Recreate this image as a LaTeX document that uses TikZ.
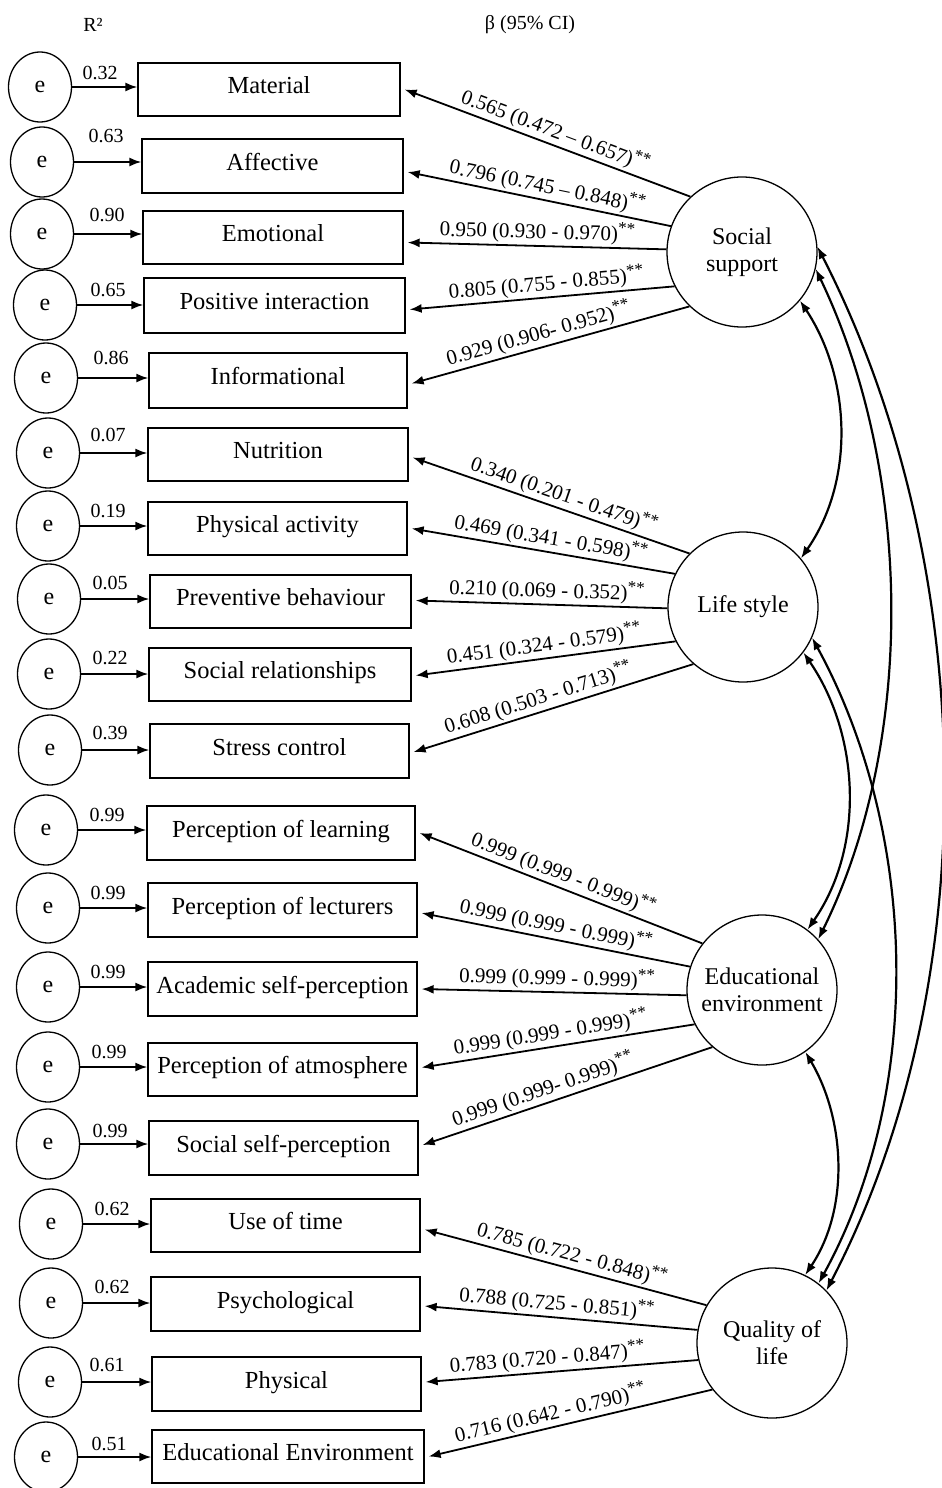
\documentclass[tikz,border=0pt]{standalone}
\usepackage{fontspec}
\setmainfont{Liberation Serif}
\usetikzlibrary{arrows.meta,shapes.geometric,calc}
\newcommand{\sigstars}{\raisebox{.32em}{\fontsize{17}{17}\selectfont**}}
\begin{document}
\begin{tikzpicture}[x=1pt,y=-1pt,
  enode/.style={draw, ellipse, line width=1.3pt, minimum width=63pt, minimum height=70pt, inner sep=0pt, font=\fontsize{24}{28}\selectfont},
  vbox/.style={draw, rectangle, line width=1.3pt, inner sep=0pt, text height=13pt, text depth=5pt, font=\fontsize{24.5}{28}\selectfont},
  latent/.style={draw, circle, line width=1.3pt, minimum size=150pt, inner sep=0pt, align=center, font=\fontsize{24}{27}\selectfont},
  earrow/.style={line width=1.8pt, -{Latex[length=12pt,width=9pt]}},
  larrow/.style={line width=1.8pt, -{Latex[length=12pt,width=9pt]}},
  cov/.style={line width=2.2pt, {Latex[length=12pt,width=9pt]}-{Latex[length=12pt,width=9pt]}},
  lab/.style={sloped, above, inner sep=2pt, font=\fontsize{21}{24}\selectfont},
  rlab/.style={inner sep=0pt, font=\fontsize{20}{24}\selectfont},
  head/.style={inner sep=0pt, font=\fontsize{20}{24}\selectfont}
]
\fill[white] (0,0) rectangle (942,1488);
\useasboundingbox (0,0) rectangle (942,1488);

\node[head] (hr) at (93,25) {R²};
\node[head] (hb) at (530,25) {β (95\% CI)};

% latent variables
\node[latent] (ss) at (742,252) {Social\\support};
\node[latent] (ls) at (743,607) {Life style};
\node[latent] (ed) at (762,990) {Educational\\environment};
\node[latent] (ql) at (772,1343) {Quality of\\life};

% indicators with error terms
\foreach \i/\ex/\ey/\bl/\br/\bt/\bb/\txt/\rr/\rx/\ry in {
  1/40/87/138/400/63/116/Material/0.32/100/73,
  2/42/162/142/403/139/193/Affective/0.63/106/136,
  3/42/234/143/403/211/264/Emotional/0.90/107/215,
  4/45/305/144/405/278/333/Positive interaction/0.65/108/290,
  5/46/378/149/407/353/408/Informational/0.86/111/358,
  6/48/453/148/408/428/481/Nutrition/0.07/108/435,
  7/48/526/148/407/502/555/Physical activity/0.19/108/511,
  8/49/599/150/411/575/628/Preventive behaviour/0.05/110/583,
  9/49/674/149/411/648/701/Social relationships/0.22/110/658,
  10/50/750/150/409/724/778/Stress control/0.39/110/733,
  11/46/830/147/415/806/860/Perception of learning/0.99/107/815,
  12/48/908/148/417/883/937/Perception of lecturers/0.99/108/893,
  13/48/987/148/417/962/1016/Academic self-perception/0.99/108/972,
  14/48/1067/148/417/1043/1096/Perception of atmosphere/0.99/109/1052,
  15/48/1144/149/418/1121/1175/Social self-perception/0.99/110/1131,
  16/51/1224/151/420/1199/1252/Use of time/0.62/112/1209,
  17/51/1303/151/420/1277/1331/Psychological/0.62/112/1287,
  18/50/1382/152/421/1357/1411/Physical/0.61/107/1365,
  19/46/1457/152/424/1430/1483/Educational Environment/0.51/109/1444}{
  \node[enode] (e\i) at (\ex,\ey) {e};
  \node[vbox, minimum width={(\br-\bl)*1pt}, minimum height={(\bb-\bt)*1pt}] (b\i) at ({(\bl+\br)/2},{(\bt+\bb)/2}) {\txt};
  \draw[earrow] (e\i.east) -- (e\i.east -| b\i.west);
  \node[rlab] (r\i) at (\rx,\ry) {\rr};
}

% loadings
\foreach \i/\lv/\ang/\dy/\ps/\lbl in {
  1/ss/133/0/0.49/0.565 (0.472 – 0.657),
  2/ss/160/6/0.48/0.796 (0.745 – 0.848),
  3/ss/178/5/0.50/0.950 (0.930 - 0.970),
  4/ss/207/4/0.48/0.805 (0.755 - 0.855),
  5/ss/226/3/0.53/0.929 (0.906- 0.952),
  6/ls/135/3/0.47/0.340 (0.201 - 0.479),
  7/ls/154/0/0.48/0.469 (0.341 - 0.598),
  8/ls/181/-1/0.48/0.210 (0.069 - 0.352),
  9/ls/207/1/0.50/0.451 (0.324 - 0.579),
  10/ls/229/1/0.54/0.608 (0.503 - 0.713),
  11/ed/142/0/0.51/0.999 (0.999 - 0.999),
  12/ed/162/3/0.51/0.999 (0.999 - 0.999),
  13/ed/184/0/0.49/0.999 (0.999 - 0.999),
  14/ed/207/-2/0.52/0.999 (0.999 - 0.999),
  15/ed/229/-3/0.57/0.999 (0.999- 0.999),
  16/ql/150/4/0.49/0.785 (0.722 - 0.848),
  17/ql/170/2/0.52/0.788 (0.725 - 0.851),
  18/ql/193/-2/0.55/0.783 (0.720 - 0.847),
  19/ql/218/0/0.56/0.716 (0.642 - 0.790)}{
  \draw[larrow] (\lv.\ang) -- node[lab, pos=\ps] {\lbl\sigstars} ($(b\i.east)+(4,\dy)$);
}

% covariances
\draw[cov] (ss.-40) .. controls (850,376) and (856,479) .. (ls.40);
\draw[cov] (ss.-13) .. controls (912,470) and (917,739) .. (ed.42);
\draw[cov] (ss.4) .. controls (978,560) and (989,978) .. (ql.44);
\draw[cov] (ls.-37) .. controls (860,735) and (865,847) .. (ed.53);
\draw[cov] (ls.-24) .. controls (918,832) and (925,1090) .. (ql.52);
\draw[cov] (ed.-55) .. controls (845,1119) and (850,1208) .. (ql.64);
\end{tikzpicture}
\end{document}
